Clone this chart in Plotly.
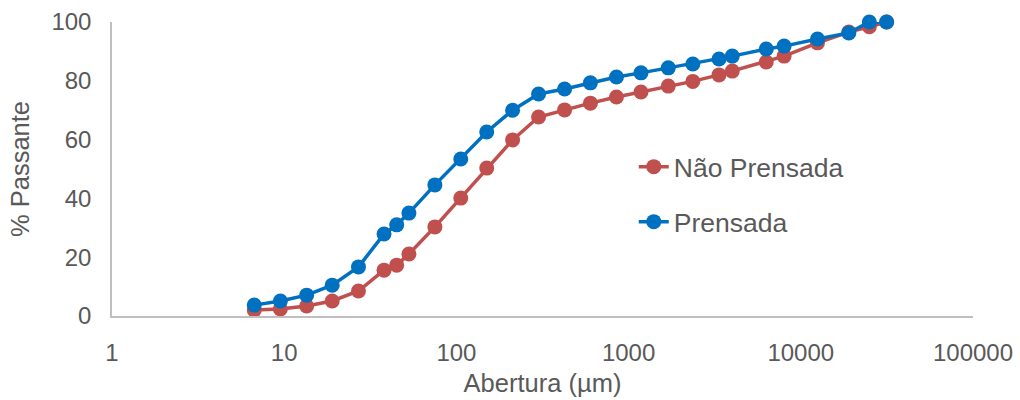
import plotly.graph_objects as go

abertura = [6.7, 9.5, 13.5, 19, 27, 38, 45, 53, 75, 106, 150, 212, 300, 425, 600, 850,
            1180, 1700, 2360, 3350, 4000, 6300, 8000, 12500, 19000, 25000, 31500]
nao_prensada = [2.0, 2.4, 3.4, 5.1, 8.5, 15.6, 17.3, 21.1, 30.3, 40.1, 50.3, 59.9, 67.7, 70.1,
                72.4, 74.5, 76.2, 78.2, 79.8, 82.0, 83.3, 86.4, 88.4, 92.9, 96.6, 98.4, 100.0]
prensada = [3.7, 5.1, 7.1, 10.5, 16.7, 27.9, 31.0, 35.0, 44.6, 53.4, 62.6, 70.0, 75.5, 77.2,
            79.3, 81.3, 82.7, 84.4, 85.7, 87.4, 88.4, 90.8, 91.8, 94.2, 96.3, 100.0, 100.0]
x_ticks = [1, 10, 100, 1000, 10000, 100000]
x_tick_labels = ["1", "10", "100", "1000", "10000", "100000"]
y_ticks = [0, 20, 40, 60, 80, 100]

RED = "#C0504D"
BLUE = "#0070C0"
GRAY = "#595959"
FONT = "Liberation Sans, Arial, sans-serif"

fig = go.Figure()
fig.add_trace(go.Scatter(x=abertura, y=nao_prensada, name="Não Prensada",
                         mode="lines+markers", line=dict(color=RED, width=3.5),
                         marker=dict(color=RED, size=15), legend="legend", showlegend=True,
                         cliponaxis=False))
fig.add_trace(go.Scatter(x=abertura, y=prensada, name="Prensada",
                         mode="lines+markers", line=dict(color=BLUE, width=3.5),
                         marker=dict(color=BLUE, size=15), legend="legend2", showlegend=True,
                         cliponaxis=False))

legend_common = dict(font=dict(family=FONT, size=26.5, color=GRAY),
                     bgcolor="rgba(0,0,0,0)", xanchor="left", yanchor="middle",
                     visible=True)
fig.update_layout(
    width=1020, height=400,
    margin=dict(l=112, r=47, t=22, b=84),
    paper_bgcolor="white", plot_bgcolor="white",
    showlegend=True,
    font=dict(family=FONT, color=GRAY, size=24),
    legend=dict(x=0.606, y=0.507, **legend_common),
    legend2=dict(x=0.606, y=0.32, **legend_common),
    xaxis=dict(type="log", range=[0, 5], tickvals=x_ticks, ticktext=x_tick_labels,
               showgrid=False, zeroline=False, showline=True, linecolor="#BFBFBF",
               linewidth=1.5, ticks="", tickfont=dict(size=24, color=GRAY),
               automargin=False, ticklabelstandoff=14,
               title=dict(text="Abertura (µm)", font=dict(size=25.5, color=GRAY), standoff=10)),
    yaxis=dict(range=[0, 100], tickvals=y_ticks, showgrid=False, zeroline=False,
               showline=True, linecolor="#BFBFBF", linewidth=1.5, ticks="",
               tickfont=dict(size=24, color=GRAY), automargin=False, ticklabelstandoff=14,
               title=dict(text="% Passante", font=dict(size=25.5, color=GRAY), standoff=14)),
)
fig.write_html("out.html", config={"displayModeBar": False},
               post_script="document.body.style.margin='0';document.body.style.overflow='hidden';")
